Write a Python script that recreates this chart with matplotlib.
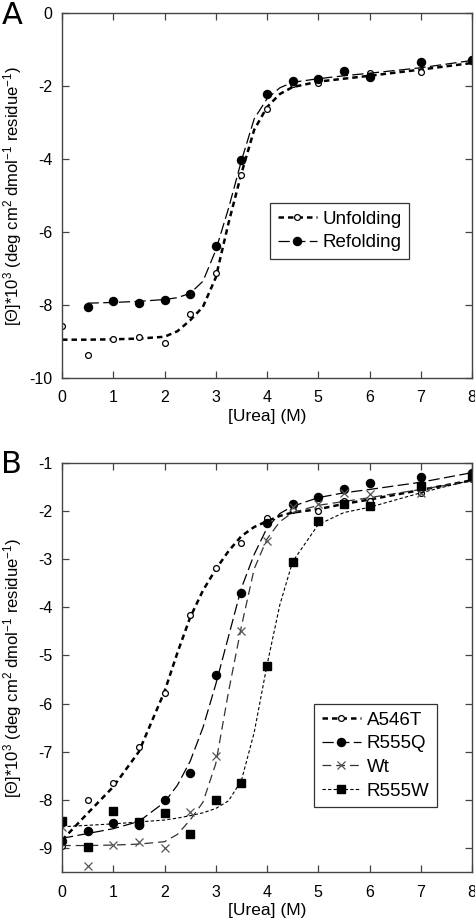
import matplotlib.pyplot as plt

plt.rcParams['font.family'] = ['Liberation Sans', 'DejaVu Sans']
plt.rcParams['axes.unicode_minus'] = False
plt.rcParams['mathtext.fontset'] = 'custom'
plt.rcParams['mathtext.rm'] = 'Liberation Sans'
plt.rcParams['mathtext.it'] = 'Liberation Sans'

# ---- panel A: measured points ----
a_x = [0, 0.5, 1, 1.5, 2, 2.5, 3, 3.5, 4, 4.5, 5, 5.5, 6, 7, 8]
unfold_y = [-8.57, -9.38, -8.94, -8.87, -9.03, -8.26, -7.11, -4.45,
            -2.62, -1.95, -1.91, -1.62, -1.64, -1.62, -1.25]
refold_x = [0.5, 1, 1.5, 2, 2.5, 3, 3.5, 4, 4.5, 5, 5.5, 6, 7, 8]
refold_y = [-8.05, -7.90, -7.94, -7.85, -7.70, -6.39, -4.03, -2.23,
            -1.86, -1.80, -1.59, -1.75, -1.34, -1.30]

# ---- panel A: fitted curves ----
fit_x = [0, 0.5, 1, 1.5, 2, 2.25, 2.5, 2.75, 3, 3.25, 3.5, 3.75, 4,
         4.25, 4.5, 5, 5.5, 6, 7, 8]
unfold_fit = [-8.95, -8.95, -8.94, -8.92, -8.87, -8.72, -8.42, -8.05,
              -7.25, -5.75, -4.40, -3.20, -2.58, -2.22, -2.03, -1.88,
              -1.80, -1.72, -1.55, -1.37]
refold_fit_x = fit_x[1:]
refold_fit = [-7.95, -7.93, -7.90, -7.85, -7.80, -7.68, -7.35, -6.50,
              -5.35, -4.05, -2.90, -2.35, -2.05, -1.90, -1.80, -1.72,
              -1.65, -1.50, -1.30]

# ---- panel B: measured points ----
b_x = [0, 0.5, 1, 1.5, 2, 2.5, 3, 3.5, 4, 4.5, 5, 5.5, 6, 7, 8]
a546t_y = [-8.95, -8.00, -7.65, -6.91, -5.77, -4.15, -3.18, -2.67,
           -2.14, -1.97, -1.99, -1.80, -1.80, -1.62, -1.34]
r555q_y = [-8.86, -8.65, -8.49, -8.53, -8.00, -7.44, -5.41, -3.70,
           -2.24, -1.85, -1.70, -1.53, -1.41, -1.29, -1.20]
wt_y = [-8.57, -9.38, -8.94, -8.87, -9.01, -8.25, -7.09, -4.50,
        -2.62, -1.92, -1.85, -1.62, -1.64, -1.62, -1.30]
r555w_y = [-8.44, -8.98, -8.23, -8.47, -8.28, -8.71, -8.00, -7.66,
           -5.22, -3.05, -2.21, -1.86, -1.90, -1.47, -1.27]

# ---- panel B: fitted curves ----
a546t_fit = [-8.84, -8.28, -7.73, -7.00, -5.75, -4.95, -4.21, -3.65,
             -3.21, -2.83, -2.52, -2.33, -2.21, -2.10, -2.03, -1.96,
             -1.85, -1.76, -1.56, -1.36]
r555q_fit = [-8.80, -8.70, -8.60, -8.45, -8.05, -7.70, -7.20, -6.50,
             -5.60, -4.60, -3.60, -2.90, -2.35, -2.05, -1.90, -1.72,
             -1.62, -1.55, -1.40, -1.20]
wt_fit = unfold_fit
r555w_fit = [-8.56, -8.53, -8.50, -8.46, -8.42, -8.38, -8.33, -8.27,
             -8.18, -8.02, -7.60, -6.60, -5.20, -3.95, -3.05, -2.28,
             -2.03, -1.92, -1.62, -1.35]

fig = plt.figure(figsize=(4.75, 9.21), dpi=100)
axA = fig.add_axes([62 / 475, 1 - 378 / 921, 410 / 475, 365 / 921])
axB = fig.add_axes([62 / 475, 1 - 872 / 921, 410 / 475, 409 / 921])

thick = dict(color='black', lw=1.8, dashes=(2.2, 1.6))
longd = dict(color='black', lw=0.9, dashes=(9, 3.5))
wtl = dict(color='#333333', lw=0.9, dashes=(7, 4))
shortd = dict(color='black', lw=0.8, dashes=(3, 2))

# panel A
axA.plot(fit_x, unfold_fit, **thick)
axA.plot(a_x, unfold_y, 'o', ms=4.2, mfc='white', mec='black', mew=0.9)
axA.plot(refold_fit_x, refold_fit, **longd)
axA.plot(refold_x, refold_y, 'o', ms=5.8, color='black')
hA = [plt.Line2D([], [], marker='o', ms=4.2, mfc='white', mec='black',
                 mew=0.9, **thick),
      plt.Line2D([], [], marker='o', ms=5.8, mfc='black', mec='black',
                 **longd)]
axA.set_xlim(0, 8)
axA.set_ylim(-10, 0)
axA.set_yticks([0, -2, -4, -6, -8, -10])

# panel B
axB.plot(fit_x, a546t_fit, **thick)
axB.plot(b_x, a546t_y, 'o', ms=4.2, mfc='white', mec='black', mew=0.9)
axB.plot(fit_x, r555q_fit, **longd)
axB.plot(b_x, r555q_y, 'o', ms=5.8, color='black')
axB.plot(fit_x, wt_fit, **wtl)
axB.plot(b_x, wt_y, 'x', ms=6, color='#555555', mew=0.9)
axB.plot(fit_x, r555w_fit, **shortd)
axB.plot(b_x, r555w_y, 's', ms=5.2, color='black')
hB = [plt.Line2D([], [], marker='o', ms=4.2, mfc='white', mec='black',
                 mew=0.9, **thick),
      plt.Line2D([], [], marker='o', ms=5.8, mfc='black', mec='black',
                 **longd),
      plt.Line2D([], [], marker='x', ms=6, mec='#555555', mew=0.9, **wtl),
      plt.Line2D([], [], marker='s', ms=5.2, mfc='black', mec='black',
                 **shortd)]
axB.set_xlim(0, 8)
axB.set_ylim(-9.5, -1)
axB.set_yticks([-1, -2, -3, -4, -5, -6, -7, -8, -9])

ylab = r'[Θ]*10$^3$ (deg cm$^2$ dmol$^{-1}$ residue$^{-1}$)'
for ax in (axA, axB):
    ax.set_xticks(range(9))
    ax.tick_params(direction='in', top=True, right=True, length=5,
                   width=0.9, color='#444444', labelsize=11.5)
    ax.tick_params(axis='x', pad=9)
    ax.tick_params(axis='y', pad=7)
    for s in ax.spines.values():
        s.set_color('#444444')
        s.set_linewidth(1.0)
    ax.set_xlabel('[Urea] (M)', fontsize=12.5, labelpad=2.5)
    ax.set_ylabel(ylab, fontsize=12)
    ax.yaxis.set_label_coords(-0.092, 0.5)

legkw = dict(loc='upper left', fontsize=13.5, frameon=True, fancybox=False,
             edgecolor='black', handlelength=2.1, handletextpad=0.3,
             labelspacing=0.35, borderpad=0.4, borderaxespad=0)
legA = axA.legend(hA, ['Unfolding', 'Refolding'],
                  bbox_to_anchor=(270 / 475, 1 - 203 / 921),
                  bbox_transform=fig.transFigure, **legkw)
legB = axB.legend(hB, ['A546T', 'R555Q', 'Wt', 'R555W'],
                  bbox_to_anchor=(314 / 475, 1 - 704 / 921),
                  bbox_transform=fig.transFigure, **legkw)
for leg in (legA, legB):
    leg.get_frame().set_linewidth(0.9)

fig.text(2 / 475, 1 - 1 / 921, 'A', fontsize=22, va='top', ha='left',
         family='DejaVu Sans')
fig.text(1 / 475, 1 - 450 / 921, 'B', fontsize=22, va='top', ha='left',
         family='DejaVu Sans')

fig.savefig('out.png', dpi=100)
